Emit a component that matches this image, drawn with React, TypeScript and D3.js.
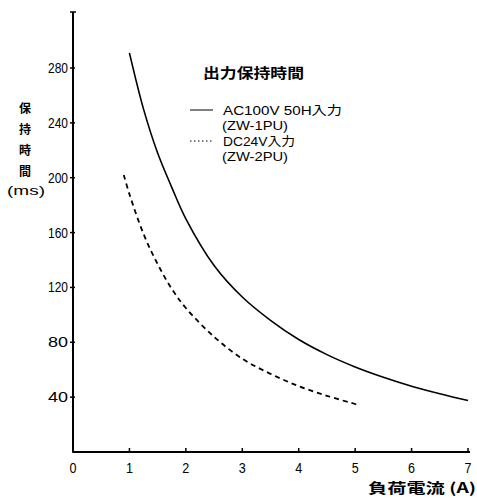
import React from 'react';
import * as d3 from 'd3';

// 負荷電流 (A) と保持時間 (ms)
const acCurrent = [1, 1.25, 1.5, 1.75, 2, 2.5, 3, 3.5, 4, 4.5, 5, 5.5, 6, 6.5, 7];
const acHold = [291, 250, 218, 193, 170, 136, 113, 96, 82, 71, 62, 54.5, 48, 42.5, 37.5];
const dcCurrent = [0.9, 1, 1.25, 1.5, 1.75, 2, 2.5, 3, 3.5, 4, 4.5, 5, 5.05];
const dcHold = [202, 188, 159, 137, 119, 105, 84, 68, 57, 48, 41, 35, 34.5];

const xTicks = [0, 1, 2, 3, 4, 5, 6, 7];
const yTicks = [40, 80, 120, 160, 200, 240, 280];
const yTitleChars = ['保', '持', '時', '間'];
const legendTitle = '出力保持時間';
const legendLines = ['AC100V 50H入力', '(ZW-1PU)', 'DC24V入力', '(ZW-2PU)'];

const font = "'Liberation Sans', 'Noto Sans CJK JP', sans-serif";
const cjk = "'Noto Sans CJK JP', sans-serif";

const App = () => {
    const width = 477;
    const height = 498;

    const xScale = d3.scaleLinear().domain([0, 7]).range([73, 468]);
    const yScale = d3.scaleLinear().domain([0, 280]).range([452, 68]);

    const line_generator = d3.line<[number, number]>()
        .x(d => xScale(d[0]))
        .y(d => yScale(d[1]))
        .curve(d3.curveCatmullRom.alpha(0.5));

    const acPath = line_generator(acCurrent.map((c, i) => [c, acHold[i]] as [number, number]));
    const dcPath = line_generator(dcCurrent.map((c, i) => [c, dcHold[i]] as [number, number]));

    const x0 = xScale(0);
    const y0 = yScale(0);
    const yTop = 12;

    return (
        <svg width={width} height={height}
            style={{ position: 'absolute', left: 0, top: 0, background: '#fff' }}>
            {/* axes */}
            <line x1={x0} y1={yTop} x2={x0} y2={y0} stroke="#000" strokeWidth={2} />
            <line x1={x0 - 3} y1={yTop} x2={x0 + 3} y2={yTop} stroke="#000" strokeWidth={1.5} />
            <line x1={x0} y1={y0} x2={xScale(7) + 2} y2={y0} stroke="#000" strokeWidth={2} />

            {yTicks.map(t => (
                <g key={'y' + t}>
                    <line x1={x0 - 3} x2={x0 + 2} y1={yScale(t)} y2={yScale(t)} stroke="#000" strokeWidth={1.5} />
                    <text x={x0 - 5} y={yScale(t) + 5} textAnchor="end" fontSize={14}
                        fontFamily={font} textLength={20} lengthAdjust="spacingAndGlyphs">{t}</text>
                </g>
            ))}

            {xTicks.map(t => (
                <g key={'x' + t}>
                    <line x1={xScale(t)} x2={xScale(t)} y1={y0 - 4} y2={y0 + 1} stroke="#000" strokeWidth={1.5} />
                    <text x={xScale(t)} y={y0 + 21} textAnchor="middle" fontSize={14} fontFamily={font}
                        textLength={7} lengthAdjust="spacingAndGlyphs">{t}</text>
                </g>
            ))}

            {/* y title */}
            {yTitleChars.map((c, i) => (
                <text key={c} x={25} y={113 + i * 21} textAnchor="middle" fontSize={12}
                    fontFamily={cjk} fontWeight="bold">{c}</text>
            ))}
            <text x={26} y={195} textAnchor="middle" fontSize={13} fontFamily={font}
                textLength={38} lengthAdjust="spacingAndGlyphs">(ms)</text>

            {/* x title */}
            <text x={476} y={493} textAnchor="end" fontSize={14} fontFamily={cjk} fontWeight="bold"
                textLength={108} lengthAdjust="spacingAndGlyphs">負荷電流 (A)</text>

            {/* curves */}
            <path d={acPath ?? ''} fill="none" stroke="#000" strokeWidth={1.6} />
            <path d={dcPath ?? ''} fill="none" stroke="#000" strokeWidth={1.8} strokeDasharray="5,4" />

            {/* legend */}
            <text x={203} y={78} fontSize={14} fontFamily={cjk} fontWeight="bold"
                textLength={101} lengthAdjust="spacingAndGlyphs">{legendTitle}</text>
            <line x1={190} x2={213} y1={110} y2={110} stroke="#000" strokeWidth={1} />
            <line x1={190} x2={213} y1={141} y2={141} stroke="#000" strokeWidth={1.2} strokeDasharray="1.5,2.5" />
            {legendLines.map((l, i) => (
                <text key={l} x={i % 2 === 0 ? 223 : 222} y={114.5 + i * 15.5} fontSize={12.5} fontFamily={font}
                    textLength={[119, 66, 72, 66][i]} lengthAdjust="spacingAndGlyphs">{l}</text>
            ))}
        </svg>
    );
};

export default App;
